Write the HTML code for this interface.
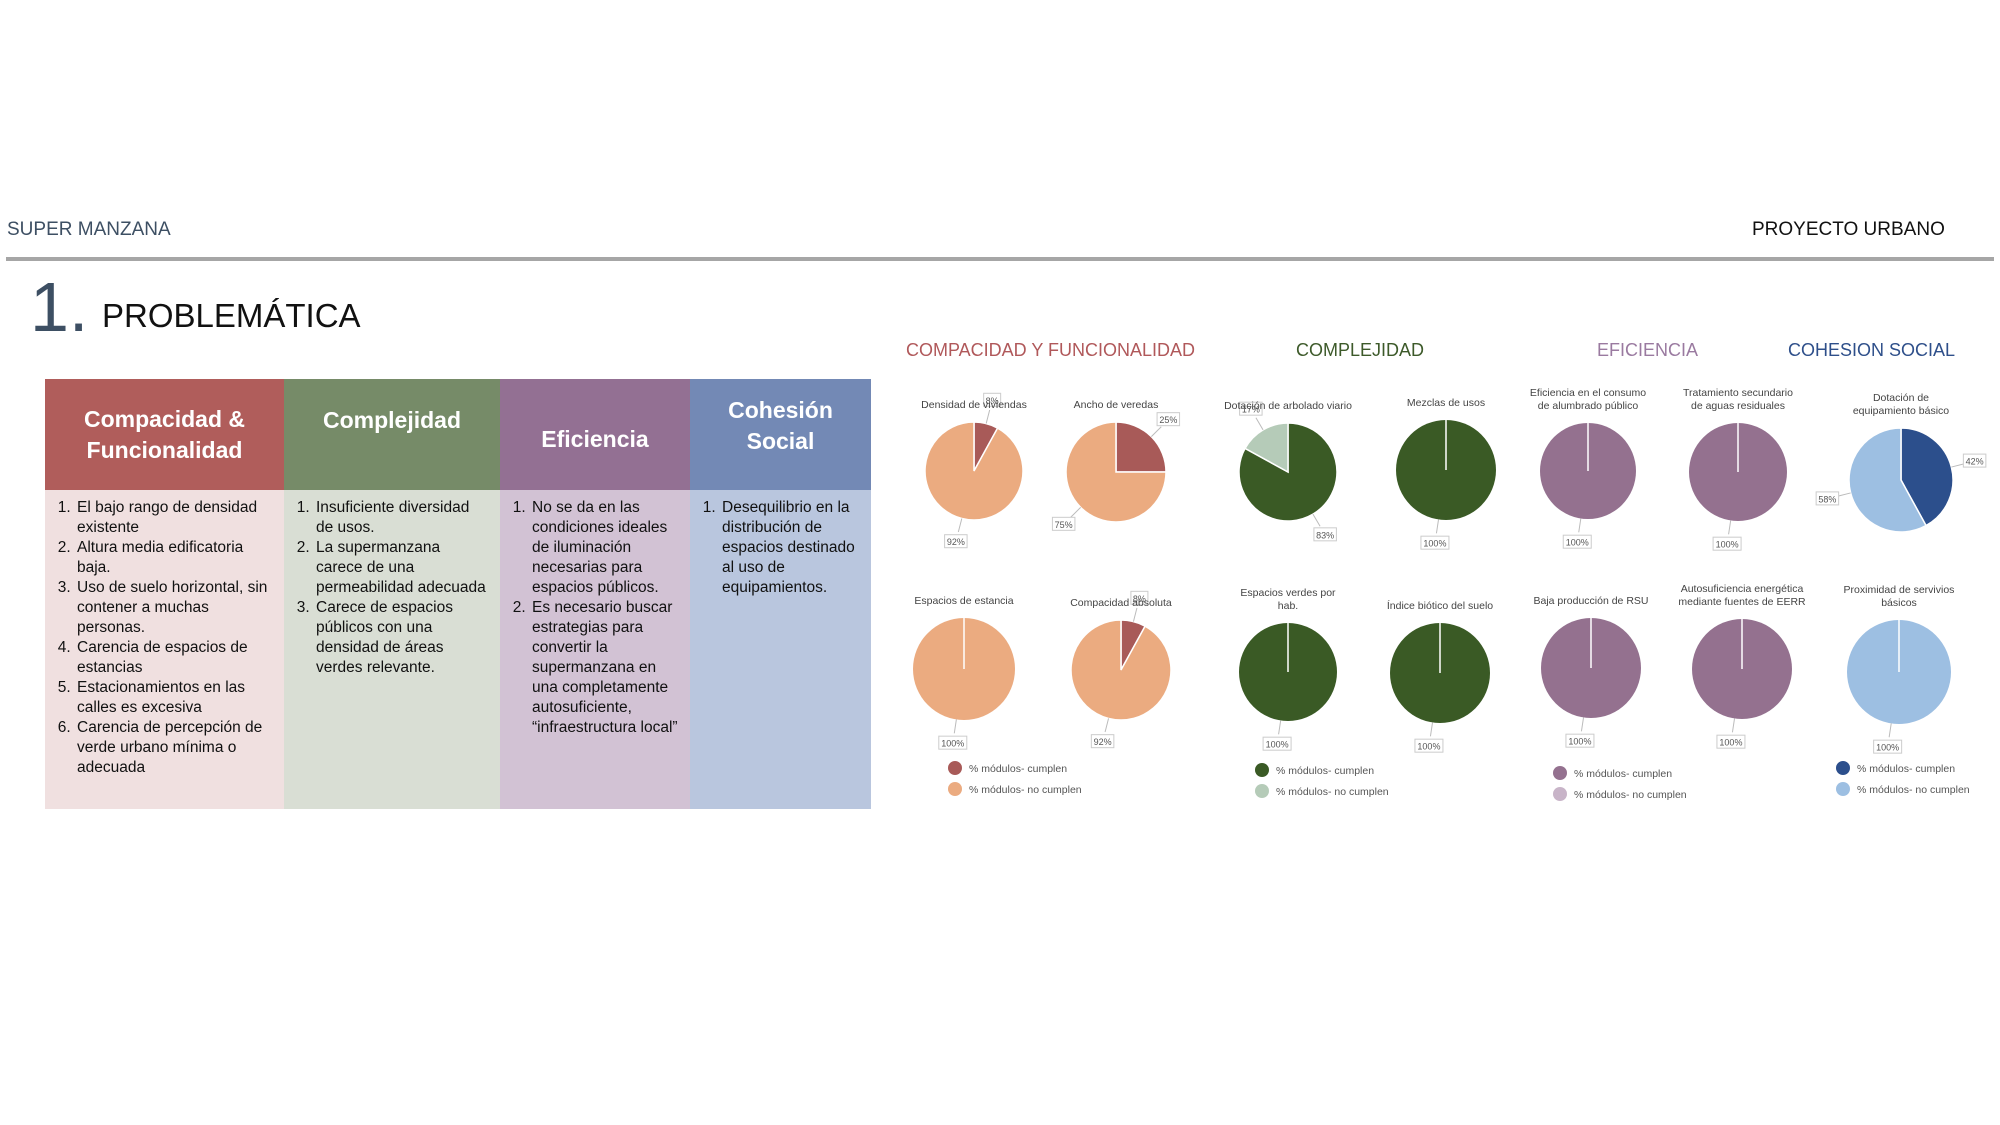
<!DOCTYPE html>
<html><head><meta charset="utf-8">
<style>
*{margin:0;padding:0;box-sizing:border-box}
body{width:2000px;height:1125px;background:#fff;position:relative;overflow:hidden;font-family:"Liberation Sans",sans-serif}
.abs{position:absolute}
#tbl{position:absolute;left:45px;top:379px;width:826px;height:430px;display:flex}
.col{height:100%;display:flex;flex-direction:column}
.hd{height:111px;color:#fff;font-weight:bold;font-size:23px;display:flex;align-items:center;justify-content:center;text-align:center;line-height:31px}
.bd{flex:1;font-size:15.5px;line-height:20px;color:#111;padding:8px 10px 0 14px}
.bd ol{padding-left:16px}
.bd li{padding-left:2px}
.sec{position:absolute;top:340px;font-size:18px;white-space:nowrap}
</style></head><body>
<div class="abs" style="left:7px;top:219px;font-size:19px;color:#3d4f63">SUPER MANZANA</div>
<div class="abs" style="left:1752px;top:219px;font-size:19px;color:#111">PROYECTO URBANO</div>
<div class="abs" style="left:6px;top:257px;width:1988px;height:4px;background:#a6a6a6"></div>
<div class="abs" style="left:30px;top:272px;font-size:70px;color:#3d4f63;line-height:70px">1.</div>
<div class="abs" style="left:102px;top:297px;font-size:33px;color:#111">PROBLEMÁTICA</div>

<div id="tbl">
 <div class="col" style="width:239px">
  <div class="hd" style="background:#b05d5b">Compacidad &amp;<br>Funcionalidad</div>
  <div class="bd" style="background:#f0e0e0"><ol>
   <li>El bajo rango de densidad existente</li><li>Altura media edificatoria baja.</li><li>Uso de suelo horizontal, sin contener a muchas personas.</li><li>Carencia de espacios de estancias</li><li>Estacionamientos en las calles es excesiva</li><li>Carencia de percepción de verde urbano mínima o adecuada</li></ol></div>
 </div>
 <div class="col" style="width:216px">
  <div class="hd" style="background:#768b68;padding-bottom:28px">Complejidad</div>
  <div class="bd" style="background:#d9ded4"><ol>
   <li>Insuficiente diversidad de usos.</li><li>La supermanzana carece de una permeabilidad adecuada</li><li>Carece de espacios públicos con una densidad de áreas verdes relevante.</li></ol></div>
 </div>
 <div class="col" style="width:190px">
  <div class="hd" style="background:#937093;padding-top:10px">Eficiencia</div>
  <div class="bd" style="background:#d2c2d4"><ol>
   <li>No se da en las condiciones ideales de iluminación necesarias para espacios públicos.</li><li>Es necesario buscar estrategias para convertir la supermanzana en una completamente autosuficiente, “infraestructura local”</li></ol></div>
 </div>
 <div class="col" style="width:181px">
  <div class="hd" style="background:#7389b5;padding-bottom:18px">Cohesión<br>Social</div>
  <div class="bd" style="background:#b9c6de"><ol>
   <li>Desequilibrio en la distribución de espacios destinado al uso de equipamientos.</li></ol></div>
 </div>
</div>

<div class="sec" style="left:906px;color:#b0585a">COMPACIDAD Y FUNCIONALIDAD</div>
<div class="sec" style="left:1296px;color:#3d5a2a">COMPLEJIDAD</div>
<div class="sec" style="left:1597px;color:#9a7aa0">EFICIENCIA</div>
<div class="sec" style="left:1788px;color:#2e4f8a">COHESION SOCIAL</div>

<svg id="pies" class="abs" style="left:0;top:0" width="2000" height="1125"></svg>

<script>
const titles=["Densidad de viviendas","Ancho de veredas","Dotación de arbolado viario","Mezclas de usos","Eficiencia en el consumo|de alumbrado público","Tratamiento secundario|de aguas residuales","Dotación de|equipamiento básico","Espacios de estancia","Compacidad absoluta","Espacios verdes por|hab.","Índice biótico del suelo","Baja producción de RSU","Autosuficiencia energética|mediante fuentes de EERR","Proximidad de servivios|básicos"];
const cumplen=[8,25,83,100,100,100,42,0,8,100,100,100,100,0];
const groups=[0,0,1,1,2,2,3,0,0,1,1,2,2,3];
const groupColors=[["#a85a58","#ebab80"],["#3a5a25","#b5cbb8"],["#94718f","#c8b4c8"],["#2c4f8c","#9dbfe2"]];
const legendLabels=["% módulos- cumplen","% módulos- no cumplen"];
// layout (not data)
const layout=[[974,471,49],[1116,472,50],[1288,472,49],[1446,470,50],[1588,471,48],[1738,472,49],[1901,480,52],
[964,669,51],[1121,670,50],[1288,672,49],[1440,673,50],[1591,668,50],[1742,669,50],[1899,672,52]];
const legendPos=[[955,768],[1262,770],[1560,773],[1843,768]];
const svg=document.getElementById('pies');
const NS="http://www.w3.org/2000/svg";
function mk(t,a){const e=document.createElementNS(NS,t);for(const k in a)e.setAttribute(k,a[k]);svg.appendChild(e);return e;}
function ang(v){return v/100*2*Math.PI;}
function pt(cx,cy,r,a){return [cx+r*Math.sin(a),cy-r*Math.cos(a)];}
function slice(cx,cy,r,a0,a1,col){
  if(a1-a0>=2*Math.PI-1e-6){return mk('circle',{cx:cx,cy:cy,r:r,fill:col});}
  const p0=pt(cx,cy,r,a0),p1=pt(cx,cy,r,a1);
  return mk('path',{d:`M${cx},${cy}L${p0[0]},${p0[1]}A${r},${r} 0 ${a1-a0>Math.PI?1:0} 1 ${p1[0]},${p1[1]}Z`,fill:col,stroke:'#fff','stroke-width':1.5});
}
function label(cx,cy,r,a,txt){
  const p0=pt(cx,cy,r,a),p1=pt(cx,cy,r+14,a),p2=pt(cx,cy,r+24,a);
  const ln=mk('polyline',{points:`${p0[0]},${p0[1]} ${p1[0]},${p1[1]}`,stroke:'#bbb',fill:'none','stroke-width':1});
  
  
  const w=txt.length*5.5+6;
  const b=mk('rect',{x:p2[0]-w/2,y:p2[1]-7,width:w,height:13,fill:'#fff',stroke:'#ccc','stroke-width':1});
  
  
  const t=mk('text',{x:p2[0],y:p2[1]+3.5,'font-size':9,'text-anchor':'middle',fill:'#555','font-family':'Liberation Sans, sans-serif'});
  t.textContent=txt;
  
  
}
cumplen.forEach((v,i)=>{
  const [cx,cy,r]=layout[i];const cols=groupColors[groups[i]];
  const a=ang(v);
  if(v>0){const s=slice(cx,cy,r,0,a,cols[0]);
    
    }
  if(v<100){const s=slice(cx,cy,r,a,2*Math.PI,cols[1]);
    
    }
  if(v===0||v===100){const l=mk('line',{x1:cx,y1:cy,x2:cx,y2:cy-r,stroke:'#fff','stroke-width':1.5});
    
    }
  if(v>0&&v<100){label(cx,cy,r,a/2,v+'%');label(cx,cy,r,(a+2*Math.PI)/2,(100-v)+'%');}
  else label(cx,cy,r,Math.PI+0.15,'100%');
  const lines=titles[i].split('|');
  const ty=cy-r-14-(lines.length-1)*13;
  lines.forEach((s,j)=>{const t=mk('text',{x:cx,y:ty+j*13,'font-size':10.5,'text-anchor':'middle',fill:'#444','font-family':'Liberation Sans, sans-serif'});
    t.textContent=s;
    
    });
});
legendPos.forEach((p,g)=>{
  legendLabels.forEach((s,j)=>{
    const c=mk('circle',{cx:p[0],cy:p[1]+j*21,r:7,fill:groupColors[g][j]});
    
    
    const t=mk('text',{x:p[0]+14,y:p[1]+j*21+4,'font-size':10.5,fill:'#555','font-family':'Liberation Sans, sans-serif'});
    t.textContent=s;
    
    
  });
});
</script>
</body></html>
